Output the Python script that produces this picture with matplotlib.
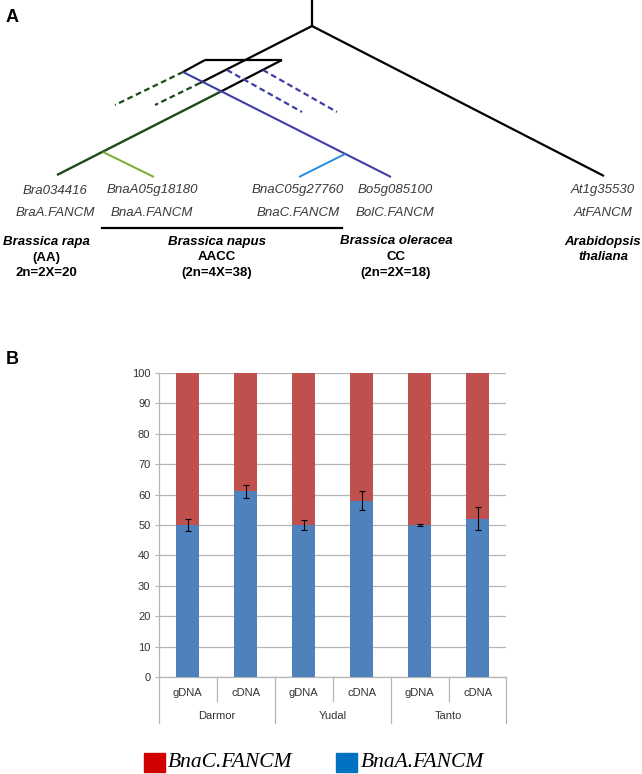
import numpy as np
import matplotlib
matplotlib.use("Agg")
import matplotlib.pyplot as plt

# ---- panel B data ----
lines_cult = ["Darmor", "Yudal", "Tanto"]
dna_types = ["gDNA", "cDNA"]
bnaA = [50, 61, 50, 58, 50, 52]
bnaA_err = [2.0, 2.2, 1.8, 3.2, 0.2, 3.8]
bnaC = [100 - v for v in bnaA]
yticks = list(range(0, 101, 10))

# ---- panel A tree (pixel positions in the figure, y down) ----
tree_black = [
    [(312, 0), (312, 26)],
    [(312, 26), (604, 176)],
    [(312, 26), (200, 83)],
    [(205, 60), (282, 60)],
    [(282, 60), (220, 92)],
    [(205, 60), (183, 72)],
]
tree_colored = [
    ("#1b4a1b", "-", 1.7, [(220, 92), (57, 175)]),
    ("#7aab2e", "-", 1.4, [(103, 152), (154, 177)]),
    ("#3d3fa6", "-", 1.5, [(183, 72), (391, 177)]),
    ("#2a8bd6", "-", 1.4, [(345, 154), (299, 177)]),
    ("#1b4a1b", "--", 1.6, [(183, 72), (115, 105)]),
    ("#1b4a1b", "--", 1.6, [(200, 83), (155, 105)]),
    ("#3d3fa6", "--", 1.6, [(227, 70), (302, 112)]),
    ("#3d3fa6", "--", 1.6, [(263, 70), (337, 112)]),
]
gene_ids = ["Bra034416", "BnaA05g18180", "BnaC05g27760", "Bo5g085100", "At1g35530"]
gene_names = ["BraA.FANCM", "BnaA.FANCM", "BnaC.FANCM", "BolC.FANCM", "AtFANCM"]
gene_x = [55, 152, 298, 395, 603]
species = [
    ("Brassica rapa", "(AA)", "2n=2X=20", 46),
    ("Brassica napus", "AACC", "(2n=4X=38)", 217),
    ("Brassica oleracea", "CC", "(2n=2X=18)", 396),
    ("Arabidopsis", "thaliana", None, 603),
]

W, H = 642, 774
fig = plt.figure(figsize=(W / 100, H / 100), dpi=100)

# background axes in pixel units for the tree and labels
ax0 = fig.add_axes([0, 0, 1, 1])
ax0.set_xlim(0, W)
ax0.set_ylim(H, 0)
ax0.axis("off")

for seg in tree_black:
    xs, ys = zip(*seg)
    ax0.plot(xs, ys, color="black", lw=1.6, solid_capstyle="butt")
for col, ls, lw, seg in tree_colored:
    xs, ys = zip(*seg)
    if ls == "--":
        ax0.plot(xs, ys, color=col, lw=lw, linestyle=(0, (2.6, 1.6)))
    else:
        ax0.plot(xs, ys, color=col, lw=lw, solid_capstyle="butt")

gene_font = dict(family="Liberation Sans", style="italic", fontsize=9.5,
                 color="#3a3a3a", ha="center", va="center")
for gx, gid, gname in zip(gene_x, gene_ids, gene_names):
    ax0.text(gx, 190.5, gid, **gene_font)
    ax0.text(gx, 213, gname, **gene_font)
ax0.plot([102, 342], [227.5, 227.5], color="black", lw=1.6)

for name, l2, l3, sx in species:
    ax0.text(sx, 241.5, name, family="Liberation Sans", weight="bold",
             style="italic", fontsize=9.5, ha="center", va="center")
    if l3 is None:
        ax0.text(sx, 257.5, l2, family="Liberation Sans", weight="bold",
                 style="italic", fontsize=9.5, ha="center", va="center")
    else:
        ax0.text(sx, 257.5, l2, family="Liberation Sans", weight="bold",
                 fontsize=9.5, ha="center", va="center")
        ax0.text(sx, 273, l3, family="Liberation Sans", weight="bold",
                 fontsize=9.5, ha="center", va="center")

ax0.text(6, 17, "A", family="Liberation Sans", weight="bold", fontsize=13,
         va="center", ha="left")
ax0.text(6, 359, "B", family="Liberation Sans", weight="bold", fontsize=13,
         va="center", ha="left")

# legend (drawn as patches + text)
ax0.add_patch(plt.Rectangle((143.5, 752.5), 21, 19.5, color="#d00000"))
ax0.add_patch(plt.Rectangle((336, 752.5), 21, 19.5, color="#0070c0"))
ax0.text(168, 762.5, "BnaC.FANCM", family="Liberation Serif", style="italic",
         fontsize=15.5, va="center", ha="left")
ax0.text(361, 762.5, "BnaA.FANCM", family="Liberation Serif", style="italic",
         fontsize=15.5, va="center", ha="left")

# ---- panel B bar chart ----
ax = fig.add_axes([158.7 / W, (H - 677.3) / H, (506.5 - 158.7) / W, (677.3 - 372.7) / H])
x = np.arange(len(bnaA))
ax.bar(x, bnaA, width=0.4, color="#4f81bd", zorder=3)
ax.bar(x, bnaC, width=0.4, bottom=bnaA, color="#c0504d", zorder=3)
ax.errorbar(x, bnaA, yerr=bnaA_err, fmt="none", ecolor="black", elinewidth=0.8,
            capsize=2.3, capthick=0.8, zorder=4)

ax.set_xlim(-0.5, len(bnaA) - 0.5)
ax.set_ylim(0, 100)
ax.set_yticks(yticks)
ax.set_yticklabels([str(t) for t in yticks], family="Liberation Sans",
                   fontsize=8, color="#333333")
ax.yaxis.grid(True, color="#b5b5b5", lw=0.9, zorder=0)
ax.tick_params(axis="y", length=3, color="#b5b5b5", pad=3)
ax.set_xticks([])
for s in ["top", "right"]:
    ax.spines[s].set_visible(False)
ax.spines["left"].set_color("#b5b5b5")
ax.spines["bottom"].set_color("#b5b5b5")
ax.spines["left"].set_linewidth(0.9)
ax.spines["bottom"].set_linewidth(0.9)

axh = 677.3 - 372.7
tr = ax.get_xaxis_transform()
for b in np.arange(-0.5, len(bnaA), 1.0):
    idx = int(round(b + 0.5))
    depth = -46 / axh if idx % 2 == 0 else -24 / axh
    ax.plot([b, b], [0, depth], transform=tr, color="#b5b5b5", lw=0.9,
            clip_on=False)
for i in range(len(bnaA)):
    ax.text(i, -15.5 / axh, dna_types[i % 2], transform=tr, ha="center",
            va="center", family="Liberation Sans", fontsize=8, color="#333333")
for g, name in enumerate(lines_cult):
    ax.text(2 * g + 0.5, -38.5 / axh, name, transform=tr, ha="center",
            va="center", family="Liberation Sans", fontsize=8, color="#333333")

fig.savefig("out.png", dpi=100)
